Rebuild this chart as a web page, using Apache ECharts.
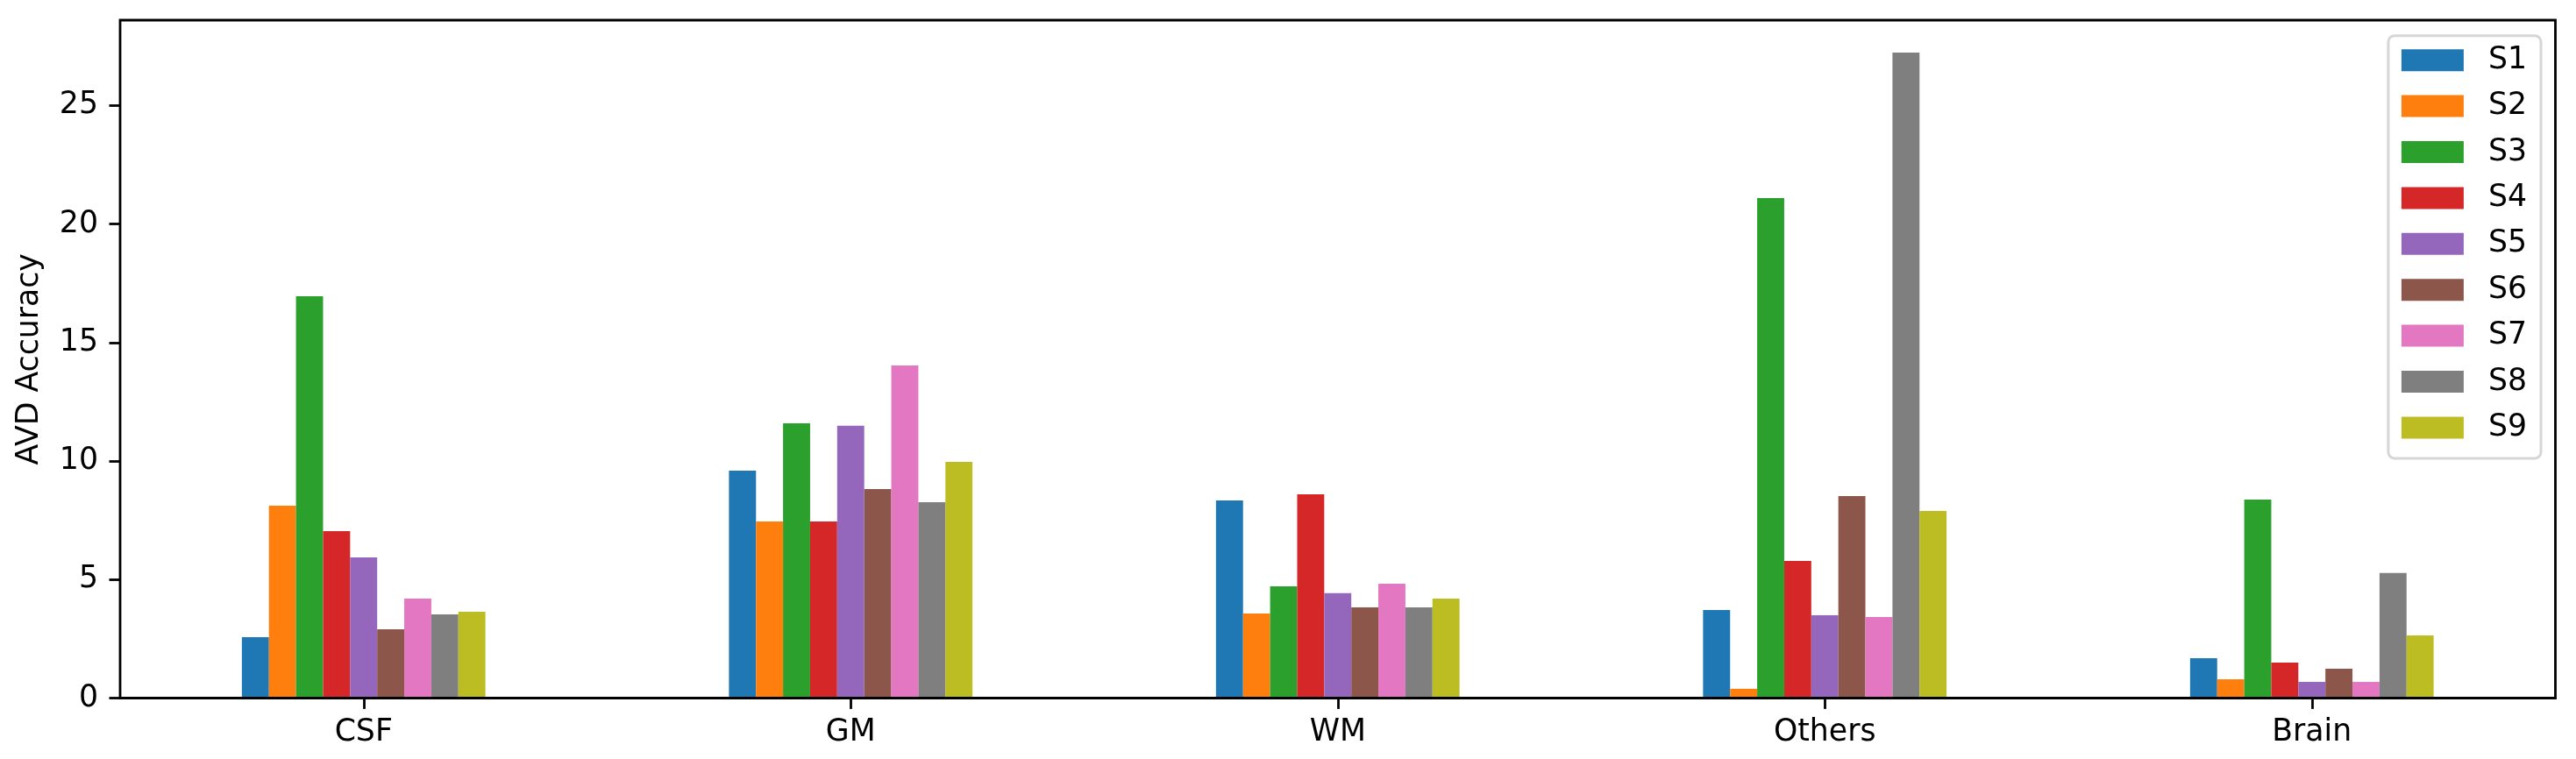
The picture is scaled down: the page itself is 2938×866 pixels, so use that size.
<!DOCTYPE html>
<html>
<head>
<meta charset="utf-8">
<title>AVD Accuracy</title>
<script src="https://cdn.jsdelivr.net/npm/echarts@6/dist/echarts.min.js"></script>
<style>
  html, body { margin: 0; padding: 0; background: #fff; }
  #chart { width: 2938px; height: 866px; }
</style>
</head>
<body>
<div id="chart"></div>
<script>
const categories = ['CSF', 'GM', 'WM', 'Others', 'Brain']
const seriesNames = ['S1', 'S2', 'S3', 'S4', 'S5', 'S6', 'S7', 'S8', 'S9']

// one array per series, values in category order
const s1 = [2.58, 9.60, 8.34, 3.72, 1.69]
const s2 = [8.12, 7.46, 3.57, 0.40, 0.80]
const s3 = [16.96, 11.60, 4.72, 21.10, 8.38]
const s4 = [7.05, 7.46, 8.60, 5.79, 1.50]
const s5 = [5.94, 11.49, 4.43, 3.50, 0.69]
const s6 = [2.91, 8.82, 3.83, 8.53, 1.25]
const s7 = [4.20, 14.04, 4.83, 3.43, 0.69]
const s8 = [3.54, 8.27, 3.83, 27.23, 5.28]
const s9 = [3.65, 9.97, 4.20, 7.90, 2.65]

const yTicks = [0, 5, 10, 15, 20, 25]

const colors = ['#1f77b4', '#ff7f0e', '#2ca02c', '#d62728', '#9467bd', '#8c564b', '#e377c2', '#7f7f7f', '#bcbd22']
const values = [s1, s2, s3, s4, s5, s6, s7, s8, s9]

const font = 'DejaVu Sans'
const fontSize = 34.7

const chart = echarts.init(document.getElementById('chart'), null, { renderer: 'canvas' })

const series = values.map((data, i) => {
  return {
    type: 'bar',
    name: seriesNames[i],
    data: data,
    barGap: 0,
    barCategoryGap: '50%',
    itemStyle: { color: colors[i] }
  }
})

chart.setOption({
  animation: false,
  backgroundColor: '#fff',
  textStyle: { fontFamily: font },
  grid: {
    left: 137,
    right: 23.5,
    top: 23,
    bottom: 69.3,
    show: true,
    borderColor: '#000',
    borderWidth: 2.8,
    backgroundColor: 'transparent'
  },
  legend: {
    orient: 'vertical',
    right: 40,
    top: 40.7,
    padding: [10.5, 16, 17.5, 15],
    itemWidth: 71,
    itemHeight: 25,
    itemGap: 17.4,
    icon: 'rect',
    backgroundColor: 'rgba(255,255,255,0.8)',
    borderColor: 'rgba(204,204,204,0.8)',
    borderWidth: 3,
    borderRadius: 7,
    textStyle: {
      fontFamily: font,
      fontSize: fontSize,
      lineHeight: 34.7,
      color: '#000',
      padding: [0, 0, 0, 23]
    },
    data: seriesNames
  },
  xAxis: {
    type: 'category',
    data: categories,
    z: 10,
    // bottom spine drawn again above the bars, like matplotlib
    axisLine: { show: true, lineStyle: { color: '#000', width: 2.8 } },
    axisTick: {
      show: true,
      alignWithLabel: true,
      length: 12.2,
      lineStyle: { color: '#000', width: 2.8 }
    },
    axisLabel: {
      fontFamily: font,
      fontSize: fontSize,
      color: '#000',
      margin: 22
    },
    splitLine: { show: false }
  },
  yAxis: {
    type: 'value',
    min: 0,
    max: 28.6,
    name: 'AVD Accuracy',
    nameLocation: 'middle',
    nameRotate: 90,
    nameGap: 86,
    nameTextStyle: { fontFamily: font, fontSize: fontSize, color: '#000' },
    axisLine: { show: false },
    axisTick: {
      show: true,
      length: 12.5,
      customValues: yTicks,
      lineStyle: { color: '#000', width: 2.8 }
    },
    axisLabel: {
      fontFamily: font,
      fontSize: fontSize,
      color: '#000',
      margin: 25,
      customValues: yTicks
    },
    splitLine: { show: false }
  },
  series: series
})
</script>
</body>
</html>
